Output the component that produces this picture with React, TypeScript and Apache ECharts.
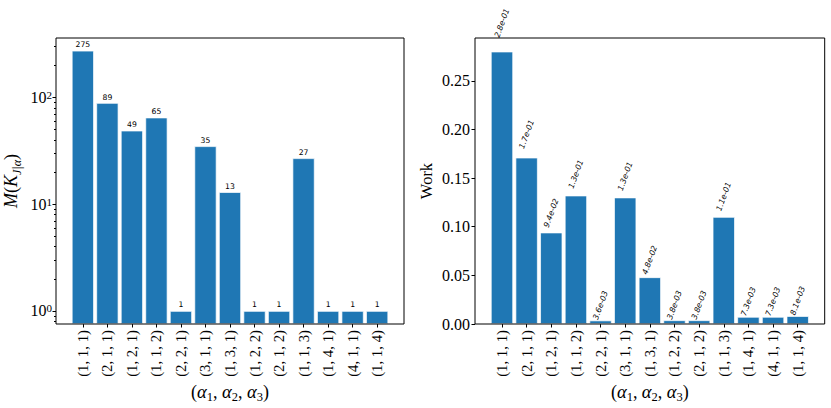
import React, { useEffect, useRef } from 'react';
import * as echarts from 'echarts';

const categories = ['(1, 1, 1)', '(2, 1, 1)', '(1, 2, 1)', '(1, 1, 2)', '(2, 2, 1)', '(3, 1, 1)', '(1, 3, 1)', '(1, 2, 2)', '(2, 1, 2)', '(1, 1, 3)', '(1, 4, 1)', '(4, 1, 1)', '(1, 1, 4)'];
const countValues = [275, 89, 49, 65, 1, 35, 13, 1, 1, 27, 1, 1, 1];
const workValues = [0.28, 0.171, 0.094, 0.132, 0.0036, 0.13, 0.048, 0.0038, 0.0038, 0.11, 0.0073, 0.0073, 0.0081];
const countAxisRange = [0.755, 362];
const countMajorTicks = [1, 10, 100];
const countMinorTicks = [0.8, 0.9, 2, 3, 4, 5, 6, 7, 8, 9, 20, 30, 40, 50, 60, 70, 80, 90, 200, 300];
const workAxisRange = [0, 0.294];
const workTicks = [0, 0.05, 0.1, 0.15, 0.2, 0.25];

const SERIF = "'Liberation Serif', 'DejaVu Serif', serif";
const SANS = "'DejaVu Sans', sans-serif";

function sci(v: number): string {
  const [m, e] = v.toExponential(1).split('e');
  const n = parseInt(e, 10);
  return m + 'e' + (n < 0 ? '-' : '+') + String(Math.abs(n)).padStart(2, '0');
}

export default function App() {
  const ref = useRef<HTMLDivElement>(null);
  useEffect(() => {
    const chart = echarts.init(ref.current as HTMLDivElement, null, { renderer: 'svg', width: 831, height: 408 });
    const top = 38;
    const h = 286;
    const lx = 56;
    const lw = 348;
    const rx = 475;
    const rw = 349.7;
    const lu = lw / 14.19;
    const ru = rw / 14.19;
    const lOff = 0.595 * lu;
    const rOff = 0.595 * ru;

    const frameGrid = (x: number, w: number) => ({
      left: x, top, width: w, height: h, show: true, borderColor: '#000', borderWidth: 1,
      backgroundColor: 'transparent', containLabel: false, outerBoundsMode: 'none', z: 10,
    });
    const innerGrid = (x: number, off: number, u: number) => ({
      left: x + off, top, width: 13 * u, height: h, containLabel: false, outerBoundsMode: 'none',
    });

    const tickStyle = { color: '#000', width: 1 };
    const labelBase = { color: '#000', fontFamily: SERIF, fontSize: 16 };
    const subRich = {
      a: { fontFamily: SERIF, fontSize: 18.5, fontStyle: 'italic', color: '#000', lineHeight: 22 },
      s: { fontFamily: SERIF, fontSize: 12.5, color: '#000', lineHeight: 12, verticalAlign: 'bottom' },
      i: { fontFamily: SERIF, fontSize: 18, fontStyle: 'italic', color: '#000', lineHeight: 24 },
      p: { fontFamily: SERIF, fontSize: 18, color: '#000', lineHeight: 24 },
      si: { fontFamily: SERIF, fontSize: 12, fontStyle: 'italic', color: '#000', lineHeight: 12, verticalAlign: 'bottom' },
    };

    const xName = '({a|α}{s|1}, {a|α}{s|2}, {a|α}{s|3})';

    const catAxis = (gridIndex: number) => ({
      gridIndex,
      type: 'category',
      data: categories,
      boundaryGap: true,
      axisLine: { show: false },
      axisTick: { show: true, alignWithLabel: true, length: 3.5, lineStyle: tickStyle },
      axisLabel: { ...labelBase, fontSize: 14.8, rotate: 90, margin: 6, interval: 0 },
      splitLine: { show: false },
      name: xName,
      nameLocation: 'middle',
      nameGap: 57,
      nameMoveOverlap: false,
      nameTextStyle: { ...labelBase, fontSize: 18, lineHeight: 22, rich: subRich },
    });

    const option: any = {
      animation: false,
      grid: [frameGrid(lx, lw), innerGrid(lx, lOff, lu), frameGrid(rx, rw), innerGrid(rx, rOff, ru)],
      xAxis: [
        { gridIndex: 0, type: 'value', min: 0, max: 1, show: false },
        catAxis(1),
        { gridIndex: 2, type: 'value', min: 0, max: 1, show: false },
        catAxis(3),
      ],
      yAxis: [
        {
          gridIndex: 0, type: 'log', logBase: 10, min: countAxisRange[0], max: countAxisRange[1], position: 'left',
          axisLine: { show: false }, splitLine: { show: false }, axisLabel: { show: false },
          axisTick: { show: true, length: 2, lineStyle: tickStyle, customValues: countMinorTicks },
        },
        {
          gridIndex: 1, type: 'log', logBase: 10, min: countAxisRange[0], max: countAxisRange[1], position: 'left',
          offset: lOff, startValue: countAxisRange[0],
          axisLine: { show: false }, splitLine: { show: false },
          axisTick: { show: true, length: 3.5, lineStyle: tickStyle, customValues: countMajorTicks },
          axisLabel: {
            ...labelBase, lineHeight: 16, margin: 4, customValues: countMajorTicks,
            formatter: (v: number) => '10{sup|' + Math.round(Math.log10(v)) + '}',
            rich: { sup: { fontFamily: SERIF, fontSize: 11, lineHeight: 11, verticalAlign: 'top', color: '#000' } },
          },
          name: '{i|M}{p|(}{i|K}{si|J|α}{p|)}',
          nameLocation: 'middle',
          nameRotate: 90,
          nameGap: 33,
          nameMoveOverlap: false,
          nameTextStyle: { ...labelBase, fontSize: 18, lineHeight: 24, rich: subRich },
        },
        { gridIndex: 2, type: 'value', min: workAxisRange[0], max: workAxisRange[1], show: false },
        {
          gridIndex: 3, type: 'value', min: workAxisRange[0], max: workAxisRange[1], interval: 0.05, position: 'left',
          offset: rOff,
          axisLine: { show: false }, splitLine: { show: false },
          axisTick: { show: true, length: 3.5, lineStyle: tickStyle, customValues: workTicks },
          axisLabel: { ...labelBase, margin: 5, customValues: workTicks, formatter: (v: number) => v.toFixed(2) },
          name: 'Work',
          nameLocation: 'middle',
          nameRotate: 90,
          nameGap: 40,
          nameMoveOverlap: false,
          nameTextStyle: { ...labelBase, fontSize: 16.5 },
        },
      ],
      series: [
        {
          type: 'bar', xAxisIndex: 1, yAxisIndex: 1, data: countValues, barWidth: '90%',
          itemStyle: { color: '#1f77b4', borderColor: '#ffffff', borderWidth: 0.7 },
          label: { show: true, position: 'top', distance: 2, fontSize: 7.7, fontFamily: SANS, color: '#000' },
        },
        {
          type: 'bar', xAxisIndex: 3, yAxisIndex: 3, data: workValues, barWidth: '90%',
          itemStyle: { color: '#1f77b4', borderColor: '#ffffff', borderWidth: 0.7 },
        },
        {
          type: 'custom', xAxisIndex: 3, yAxisIndex: 3, clip: false, silent: true,
          data: workValues.map((v, i) => [i, v]),
          renderItem: (params: any, api: any) => {
            const i = api.value(0);
            const v = api.value(1);
            const p = api.coord([i, v * 1.05]);
            return {
              type: 'text',
              x: p[0],
              y: p[1] - 15,
              rotation: (70 * Math.PI) / 180,
              style: {
                text: sci(v), x: 0, y: 0, align: 'center', verticalAlign: 'middle',
                fontSize: 7.8, fontFamily: SANS, fontStyle: 'italic', fill: '#000',
              },
            };
          },
        },
      ],
    };
    chart.setOption(option);
    return () => chart.dispose();
  }, []);
  return <div ref={ref} style={{ position: 'fixed', left: 0, top: 0, width: 831, height: 408, background: '#fff' }} />;
}
